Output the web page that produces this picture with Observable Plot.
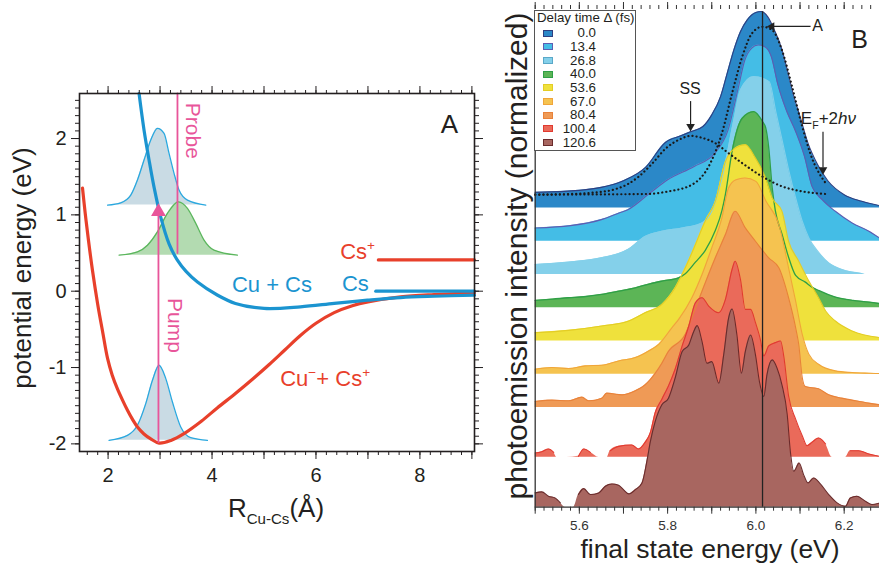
<!DOCTYPE html>
<html><head><meta charset="utf-8">
<script src="https://cdn.jsdelivr.net/npm/d3@7"></script>
<script src="https://cdn.jsdelivr.net/npm/@observablehq/plot@0.6"></script>
<style>
body{margin:0;background:#fff;}
#wrap{position:relative;width:879px;height:569px;overflow:hidden;background:#fff;font-family:"Liberation Sans",Arial,Helvetica,sans-serif;}
#wrap svg{position:absolute;top:0;overflow:visible;}
</style></head><body><div id="wrap"></div>
<script>
const FONT = '"Liberation Sans", Arial, Helvetica, sans-serif';
const INK = "#231f20";

// ---------------- Panel A data: potential curves [R (Å), energy (eV)] ----------------
const ionicCurve = [[1.508,1.35],[1.56,1.02],[1.62,0.68],[1.7,0.27],[1.8,-0.17],[1.9,-0.55],[1.99,-0.88],[2.08,-1.1],[2.18,-1.28],[2.28,-1.43],[2.373,-1.56],[2.47,-1.68],[2.565,-1.78],[2.69,-1.87],[2.821,-1.935],[2.981,-1.99],[3.21,-1.955],[3.46,-1.866],[3.8,-1.70],[4.1,-1.53],[4.45,-1.34],[4.8,-1.14],[5.1,-0.96],[5.4,-0.77],[5.7,-0.58],[6.0,-0.42],[6.35,-0.28],[6.7,-0.19],[7.0,-0.14],[7.63,-0.075],[8.27,-0.044],[9.05,-0.02]];
const covalentCurve = [[2.596,2.59],[2.692,2.11],[2.788,1.72],[2.885,1.36],[3.013,0.97],[3.173,0.62],[3.33,0.41],[3.5,0.26],[3.72,0.12],[4.1,-0.05],[4.45,-0.16],[5.0,-0.225],[5.7,-0.205],[6.35,-0.16],[6.99,-0.118],[7.63,-0.083],[8.27,-0.066],[9.05,-0.052]];
const csLevel = [[7.15,0.0],[9.05,0.0]];
const csIonLevel = [[7.2,0.41],[9.05,0.41]];
const packetGround = [[2.019,-1.954],[2.373,-1.889],[2.565,-1.757],[2.725,-1.473],[2.854,-1.167],[2.981,-0.97],[3.11,-1.145],[3.238,-1.452],[3.398,-1.78],[3.59,-1.919],[3.912,-1.954]];
const packetExcited = [[1.99,1.128],[2.244,1.158],[2.437,1.259],[2.565,1.456],[2.692,1.718],[2.821,1.98],[2.95,2.134],[3.077,2.068],[3.173,1.806],[3.269,1.544],[3.365,1.325],[3.527,1.193],[3.879,1.128]];
const packetProbe = [[2.212,0.472],[2.565,0.515],[2.758,0.603],[2.95,0.778],[3.142,1.019],[3.354,1.171],[3.527,1.085],[3.687,0.888],[3.846,0.669],[4.038,0.538],[4.488,0.472]];
const pumpLine = [[2.969,-1.976],[2.969,1.0]];
const pumpHead = [[2.969,1.04]];
const probeLine = [[3.335,0.5],[3.335,2.59]];
const aTickLabelsX = [2,4,6,8];
const aTickLabelsY = [-2,-1,0,1,2];

// ---------------- Panel B data: spectra [final state energy (eV), normalized intensity] ----------------
const delays = ["0.0","13.4","26.8","40.0","53.6","67.0","80.4","100.4","120.6"];
const offsets = [9,8,7,6,5,4,3,1.5,0];
const fills = ["#2b88c8","#44bde6","#84d0ea","#5cb556","#efe13c","#f5c350","#ef9a56","#ea6a5a","#a86660"];
const strokes = ["#2f3f80","#5d5db2","#84d0ea","#2f9f47","#e3cd25","#f0a53a","#e8823a","#e13a30","#6a2c2c"];
const spec0 = [[5.50,0.47],[5.60,0.53],[5.65,0.62],[5.70,0.82],[5.75,1.22],[5.795,1.97],[5.83,2.17],[5.852,2.29],[5.88,2.45],[5.90,2.80],[5.92,3.35],[5.935,4.05],[5.95,4.75],[5.965,5.30],[5.98,5.65],[6.00,5.88],[6.012,5.91],[6.027,5.75],[6.042,5.35],[6.057,4.85],[6.072,4.1],[6.085,3.4],[6.10,2.75],[6.118,1.95],[6.14,1.3],[6.163,0.82],[6.20,0.40],[6.24,0.20],[6.28,0.07]];
const spec13 = [[5.50,0.40],[5.58,0.47],[5.65,0.65],[5.69,0.85],[5.71,0.95],[5.76,1.45],[5.80,1.85],[5.86,2.25],[5.907,2.65],[5.937,3.35],[5.959,4.55],[5.975,5.45],[5.99,5.80],[6.005,5.90],[6.02,5.85],[6.035,5.55],[6.05,4.70],[6.07,3.90],[6.09,3.30],[6.11,2.55],[6.127,1.65],[6.15,1.25],[6.18,0.90],[6.218,0.55],[6.256,0.30],[6.28,0.10]];
const spec27 = [[5.50,0.30],[5.575,0.37],[5.65,0.50],[5.71,0.75],[5.75,1.15],[5.787,1.30],[5.833,1.40],[5.878,1.55],[5.90,1.90],[5.925,3.0],[5.95,4.65],[5.965,5.55],[5.995,5.95],[6.03,5.80],[6.045,4.90],[6.06,4.00],[6.075,3.10],[6.09,2.30],[6.105,1.60],[6.12,1.10],[6.14,0.70],[6.165,0.35],[6.195,0.15],[6.24,0.03],[6.25,0],[6.28,0]];
const spec40 = [[5.50,0.22],[5.54,0.26],[5.575,0.30],[5.61,0.33],[5.65,0.40],[5.69,0.50],[5.727,0.60],[5.76,0.72],[5.787,0.80],[5.825,0.90],[5.84,1.02],[5.863,1.37],[5.885,1.72],[5.908,2.32],[5.923,2.92],[5.931,3.42],[5.946,4.70],[5.969,5.70],[5.995,5.90],[6.015,5.6],[6.022,5.42],[6.029,4.82],[6.037,3.6],[6.044,2.92],[6.059,2.22],[6.074,1.52],[6.09,0.97],[6.112,0.77],[6.127,0.62],[6.142,0.52],[6.18,0.32],[6.22,0.22],[6.256,0.17],[6.282,0.12]];
const spec54 = [[5.50,0.25],[5.576,0.32],[5.651,0.45],[5.712,0.60],[5.749,0.85],[5.787,1.10],[5.817,1.60],[5.84,2.20],[5.863,2.90],[5.885,3.60],[5.908,4.20],[5.931,5.40],[5.953,5.80],[5.976,5.90],[5.999,5.50],[6.022,4.90],[6.037,4.30],[6.059,3.90],[6.074,3.00],[6.097,2.40],[6.12,1.80],[6.142,1.30],[6.158,0.90],[6.18,0.60],[6.218,0.30],[6.282,0.10]];
const spec67 = [[5.50,0.15],[5.538,0.20],[5.576,0.17],[5.613,0.25],[5.651,0.27],[5.689,0.40],[5.727,0.50],[5.757,0.70],[5.78,0.90],[5.81,1.40],[5.825,1.65],[5.855,2.30],[5.878,3.00],[5.90,3.80],[5.923,4.70],[5.938,5.60],[5.955,5.85],[5.975,5.90],[6.00,5.80],[6.023,5.20],[6.052,4.50],[6.074,3.20],[6.09,2.20],[6.105,1.20],[6.12,0.60],[6.142,0.30],[6.18,0.10],[6.218,0.05],[6.256,0.03],[6.282,0.02]];
const spec80 = [[5.50,0.18],[5.538,0.22],[5.576,0.20],[5.606,0.31],[5.621,0.20],[5.651,0.28],[5.662,0.43],[5.697,0.38],[5.727,0.50],[5.749,0.68],[5.772,1.03],[5.787,1.33],[5.802,1.69],[5.84,2.20],[5.855,2.70],[5.878,3.50],[5.908,4.50],[5.931,5.20],[5.953,5.90],[5.976,5.40],[5.999,5.00],[6.029,4.50],[6.052,4.20],[6.074,3.30],[6.09,2.40],[6.097,1.90],[6.105,0.90],[6.112,0.63],[6.142,0.56],[6.165,0.38],[6.195,0.28],[6.226,0.20],[6.256,0.13],[6.282,0.08]];
const spec100 = [[5.50,0.13],[5.515,0.17],[5.53,0.25],[5.542,0.15],[5.549,0],[5.572,0],[5.598,0.03],[5.61,0.25],[5.625,0.15],[5.644,0],[5.663,0],[5.67,0.2],[5.689,0.33],[5.719,0.37],[5.734,0.25],[5.749,0.45],[5.761,0.75],[5.772,1.35],[5.787,1.75],[5.802,2.15],[5.817,2.65],[5.833,3.35],[5.848,3.95],[5.863,4.65],[5.878,4.80],[5.893,4.55],[5.916,4.35],[5.931,4.75],[5.946,5.65],[5.953,5.90],[5.965,5.35],[5.976,4.45],[5.988,4.45],[5.999,4.05],[6.01,3.55],[6.018,3.05],[6.029,3.35],[6.044,3.45],[6.056,3.50],[6.063,3.05],[6.074,1.85],[6.09,1.15],[6.105,0.65],[6.116,0.35],[6.127,0.45],[6.142,0.58],[6.158,0.40],[6.173,0],[6.203,0],[6.214,0.2],[6.233,0.2],[6.256,0.1],[6.279,0.03]];
const spec121 = [[5.50,0.43],[5.515,0.46],[5.53,0.33],[5.545,0.28],[5.557,0.13],[5.568,0],[5.587,0],[5.598,0.38],[5.61,0.56],[5.625,0.38],[5.644,0.43],[5.659,0.63],[5.674,0.70],[5.689,0.66],[5.70,0.53],[5.712,0.40],[5.727,0.53],[5.742,0.73],[5.753,1.38],[5.761,1.98],[5.772,2.58],[5.787,3.08],[5.802,3.28],[5.817,3.88],[5.833,4.68],[5.848,4.88],[5.859,5.28],[5.867,5.46],[5.878,4.98],[5.889,4.33],[5.90,4.38],[5.916,3.73],[5.927,4.58],[5.938,5.68],[5.946,5.96],[5.957,5.18],[5.967,4.03],[5.976,4.68],[5.988,5.18],[5.999,4.58],[6.008,3.78],[6.018,3.33],[6.025,3.98],[6.037,4.43],[6.048,4.18],[6.059,3.68],[6.071,2.78],[6.078,1.68],[6.086,1.08],[6.098,1.33],[6.108,0.98],[6.118,0.73],[6.131,0.88],[6.146,0.70],[6.165,0.38],[6.184,0.13],[6.203,0.03],[6.214,0.28],[6.229,0.33],[6.248,0.18],[6.263,0.08],[6.282,0.13]];
const spectra = [spec0, spec13, spec27, spec40, spec54, spec67, spec80, spec100, spec121];
// fitted components of the 0.0 fs spectrum (same baseline as that spectrum)
const fitSS = [[5.50,0.40],[5.58,0.42],[5.63,0.46],[5.68,0.56],[5.71,0.72],[5.735,0.95],[5.766,1.35],[5.795,1.78],[5.83,2.08],[5.852,2.17],[5.875,2.12],[5.908,1.95],[5.938,1.65],[5.969,1.35],[6.014,0.95],[6.059,0.65],[6.105,0.50],[6.158,0.42]];
const fitA = [[5.50,0.40],[5.75,0.42],[5.802,0.50],[5.855,0.70],[5.893,1.25],[5.923,2.25],[5.946,3.45],[5.969,4.55],[5.991,5.25],[6.014,5.45],[6.037,5.35],[6.059,4.75],[6.082,3.65],[6.105,2.45],[6.127,1.50],[6.15,0.90],[6.158,0.75]];
const eFermiLine = 6.015;
const bTickLabels = [5.6,5.8,6.0,6.2];

// ---------------- helpers ----------------
const wrap = document.getElementById("wrap");
function rich(svg, px, py, parts, {size=20, fill=INK, anchor="start", rotate=0} = {}) {
  const t = d3.select(svg).append("text")
    .attr("transform", `translate(${px},${py}) rotate(${rotate})`)
    .attr("text-anchor", anchor).attr("fill", fill)
    .attr("font-family", FONT).attr("font-size", size);
  let shift = 0;
  for (const p of parts) {
    const target = p.sup ? -0.42*size : p.sub ? 0.28*size : 0;
    const ts = t.append("tspan").attr("dy", target - shift).text(p.t);
    if (p.sup || p.sub) ts.attr("font-size", size*(p.scale || 0.62));
    if (p.italic) ts.attr("font-style", "italic");
    shift = target;
  }
  return t;
}
const X = (c, v) => c.scale("x").apply(v);
const Y = (c, v) => c.scale("y").apply(v);
const px = d => d[0], py = d => d[1];

// ---------------- Panel A ----------------
const red = "#e8402b", blue = "#1b94d0", pink = "#e8559a";
const chartA = Plot.plot({
  width: 480, height: 569,
  marginLeft: 79, marginRight: 6, marginTop: 93, marginBottom: 118,
  x: {domain: [1.45, 9.05]},
  y: {domain: [-2.1, 2.59]},
  style: {fontFamily: FONT, fontSize: "20px", color: INK, background: "white", overflow: "visible"},
  marks: [
    Plot.areaY(packetExcited, {x: px, y1: packetExcited[0][1], y2: py, fill: "#c9dbe4", curve: "monotone-x"}),
    Plot.areaY(packetProbe, {x: px, y1: packetProbe[0][1], y2: py, fill: "#b3dbb1", curve: "monotone-x"}),
    Plot.areaY(packetGround, {x: px, y1: packetGround[0][1], y2: py, fill: "#c9dbe4", curve: "monotone-x"}),
    Plot.line(packetExcited, {x: px, y: py, stroke: "#2aa8df", strokeWidth: 1.3, curve: "monotone-x"}),
    Plot.line(packetProbe, {x: px, y: py, stroke: "#5bb65d", strokeWidth: 1.3, curve: "monotone-x"}),
    Plot.line(packetGround, {x: px, y: py, stroke: "#2aa8df", strokeWidth: 1.3, curve: "monotone-x"}),
    Plot.line(ionicCurve, {x: px, y: py, stroke: red, strokeWidth: 3.2, curve: "catmull-rom"}),
    Plot.line(covalentCurve, {x: px, y: py, stroke: blue, strokeWidth: 3.2, curve: "catmull-rom"}),
    Plot.line(csLevel, {x: px, y: py, stroke: blue, strokeWidth: 3.2}),
    Plot.line(csIonLevel, {x: px, y: py, stroke: red, strokeWidth: 3.2}),
    Plot.line(pumpLine, {x: px, y: py, stroke: pink, strokeWidth: 1.8}),
    Plot.line(probeLine, {x: px, y: py, stroke: pink, strokeWidth: 1.8}),
    Plot.dot(pumpHead, {x: px, y: py, symbol: "triangle", r: 5.5, fill: pink, stroke: "none"}),
    Plot.frame({stroke: INK, strokeWidth: 1.6}),
    Plot.axisX({anchor: "bottom", ticks: d3.range(2, 10, 1), tickSize: 8, tickPadding: 8, tickFormat: d => aTickLabelsX.includes(d) ? String(d) : "", label: null}),
    Plot.axisX({anchor: "bottom", ticks: d3.range(1.6, 9.05, 0.2), tickSize: 4, tickFormat: () => "", label: null}),
    Plot.axisX({anchor: "top", ticks: d3.range(2, 10, 1), tickSize: 8, tickFormat: () => "", label: null}),
    Plot.axisX({anchor: "top", ticks: d3.range(1.6, 9.05, 0.2), tickSize: 4, tickFormat: () => "", label: null}),
    Plot.axisY({anchor: "left", ticks: aTickLabelsY, tickSize: 8, tickPadding: 5, tickFormat: d => String(d), label: null}),
    Plot.axisY({anchor: "left", ticks: d3.range(-2.0, 2.55, 0.1), tickSize: 4, tickFormat: () => "", label: null}),
    Plot.axisY({anchor: "right", ticks: aTickLabelsY, tickSize: 8, tickFormat: () => "", label: null}),
    Plot.axisY({anchor: "right", ticks: d3.range(-2.0, 2.55, 0.1), tickSize: 4, tickFormat: () => "", label: null})
  ]
});
chartA.style.left = "0px";
wrap.appendChild(chartA);

rich(chartA, X(chartA, 8.577), Y(chartA, 2.068), [{t: "A"}], {size: 26, anchor: "middle"});
rich(chartA, X(chartA, 4.392), Y(chartA, -0.02), [{t: "Cu + Cs"}], {size: 22, fill: blue});
rich(chartA, X(chartA, 6.508), Y(chartA, -0.01), [{t: "Cs"}], {size: 22, fill: blue});
rich(chartA, X(chartA, 6.475), Y(chartA, 0.416), [{t: "Cs"}, {t: "+", sup: true}], {size: 22, fill: red});
rich(chartA, X(chartA, 5.321), Y(chartA, -1.246), [{t: "Cu"}, {t: "\u2212", sup: true}, {t: "+ Cs"}, {t: "+", sup: true}], {size: 22, fill: red});
rich(chartA, X(chartA, 3.51), Y(chartA, 2.462), [{t: "Probe"}], {size: 21, fill: pink, rotate: 90});
rich(chartA, X(chartA, 3.158), Y(chartA, -0.096), [{t: "Pump"}], {size: 21, fill: pink, rotate: 90});
rich(chartA, 276, 517, [{t: "R"}, {t: "Cu-Cs", sub: true, scale: 0.58}, {t: "(Å)"}], {size: 26, anchor: "middle"});
rich(chartA, 31, 268, [{t: "potential energy (eV)"}], {size: 26, anchor: "middle", rotate: -90});

// ---------------- Panel B ----------------
const rows = spectra.map((s, i) => s.map(([e, v]) => ({e, v, off: offsets[i]})));
const chartB = Plot.plot({
  width: 399, height: 569,
  marginLeft: 54.7, marginRight: 0, marginTop: 8, marginBottom: 62.3,
  x: {domain: [5.5, 6.28]},
  y: {domain: [0, 15]},
  style: {fontFamily: FONT, fontSize: "13.5px", color: "#333", background: "transparent", overflow: "visible"},
  marks: [
    ...rows.map((r, i) => Plot.areaY(r, {x: "e", y1: "off", y2: d => d.off + d.v, fill: fills[i], curve: "monotone-x"})),
    ...rows.map((r, i) => Plot.line(r, {x: "e", y: d => d.v > 0 ? d.off + d.v : NaN, stroke: strokes[i], strokeWidth: i === 3 ? 1.3 : 1.1, curve: "monotone-x"})),
    Plot.line(fitSS, {x: px, y: d => offsets[0] + d[1], stroke: "#1a1a1a", strokeWidth: 2.2, strokeDasharray: "0.1,4", strokeLinecap: "round", curve: "monotone-x"}),
    Plot.line(fitA, {x: px, y: d => offsets[0] + d[1], stroke: "#1a1a1a", strokeWidth: 2.2, strokeDasharray: "0.1,4", strokeLinecap: "round", curve: "monotone-x"}),
    Plot.ruleX([eFermiLine], {y1: 0, y2: 14.9, stroke: "#222", strokeWidth: 1.3}),
    // annotation arrows
    Plot.ruleX([5.852], {y1: 11.5, y2: 12.2, stroke: "#222", strokeWidth: 1.2}),
    Plot.dot([[5.852, 11.45]], {x: px, y: py, symbol: "triangle", rotate: 180, r: 3.2, fill: "#222", stroke: "none"}),
    Plot.ruleY([14.46], {x1: 6.04, x2: 6.125, stroke: "#222", strokeWidth: 1.2}),
    Plot.dot([[6.036, 14.46]], {x: px, y: py, symbol: "triangle", rotate: -90, r: 3.2, fill: "#222", stroke: "none"}),
    Plot.ruleX([6.152], {y1: 10.2, y2: 11.28, stroke: "#222", strokeWidth: 1.2}),
    Plot.dot([[6.152, 10.15]], {x: px, y: py, symbol: "triangle", rotate: 180, r: 3.2, fill: "#222", stroke: "none"}),
    // axes
    Plot.ruleY([0], {stroke: "#333", strokeWidth: 1.3}),
    Plot.ruleX([5.5], {y1: 0, y2: 14.9, stroke: "#333", strokeWidth: 1.3}),
    Plot.axisX({anchor: "bottom", ticks: d3.range(5.5, 6.29, 0.1), tickSize: 7, tickPadding: 6, tickFormat: d => bTickLabels.some(t => Math.abs(t - d) < 1e-6) ? d.toFixed(1) : "", label: null}),
    Plot.axisX({anchor: "bottom", ticks: d3.range(5.5, 6.29, 0.02), tickSize: 4, tickFormat: () => "", label: null}),
    Plot.axisX({anchor: "top", ticks: d3.range(5.5, 6.29, 0.1), tickSize: 7, tickFormat: () => "", label: null}),
    Plot.axisX({anchor: "top", ticks: d3.range(5.5, 6.29, 0.02), tickSize: 4, tickFormat: () => "", label: null}),
    Plot.axisY({ticks: [], label: null})
  ]
});
chartB.style.left = "480px";
wrap.appendChild(chartB);

rich(chartB, X(chartB, 5.852), Y(chartB, 12.41), [{t: "SS"}], {size: 16, anchor: "middle"});
rich(chartB, X(chartB, 6.129), Y(chartB, 14.32), [{t: "A"}], {size: 16});
rich(chartB, X(chartB, 6.103), Y(chartB, 11.5), [{t: "E"}, {t: "F", sub: true}, {t: "+2"}, {t: "hν", italic: true}], {size: 17});
rich(chartB, X(chartB, 6.236), Y(chartB, 13.79), [{t: "B"}], {size: 25, anchor: "middle"});
rich(chartB, 230, 558, [{t: "final state energy (eV)"}], {size: 26.5, anchor: "middle"});
rich(chartB, 47, 256, [{t: "photoemission intensity (normalized)"}], {size: 30, anchor: "middle", rotate: -90});

// ---------------- Legend (panel B) ----------------
const legend = document.createElement("div");
legend.style.cssText = `position:absolute;left:534px;top:10px;width:102px;height:141px;border:1.3px solid #555;background:#fff;font-family:${FONT};font-size:13.3px;color:${INK};box-sizing:border-box;`;
const title = document.createElement("div");
title.textContent = "Delay time Δ (fs)";
title.style.cssText = "position:absolute;left:2px;top:0.5px;line-height:12px;white-space:nowrap;";
legend.appendChild(title);
delays.forEach((d, i) => {
  const cy = 22.3 + i * 13.65;
  const sw = document.createElement("div");
  sw.style.cssText = `position:absolute;left:8px;top:${cy - 3.5}px;width:10px;height:7px;background:${fills[i]};border:1px solid ${strokes[i] === fills[i] ? "#5aa8c8" : strokes[i]};box-sizing:border-box;`;
  legend.appendChild(sw);
  const lab = document.createElement("div");
  lab.textContent = d;
  lab.style.cssText = `position:absolute;left:0;width:61px;text-align:right;top:${cy - 6}px;line-height:12px;`;
  legend.appendChild(lab);
});
wrap.appendChild(legend);
</script></body></html>
